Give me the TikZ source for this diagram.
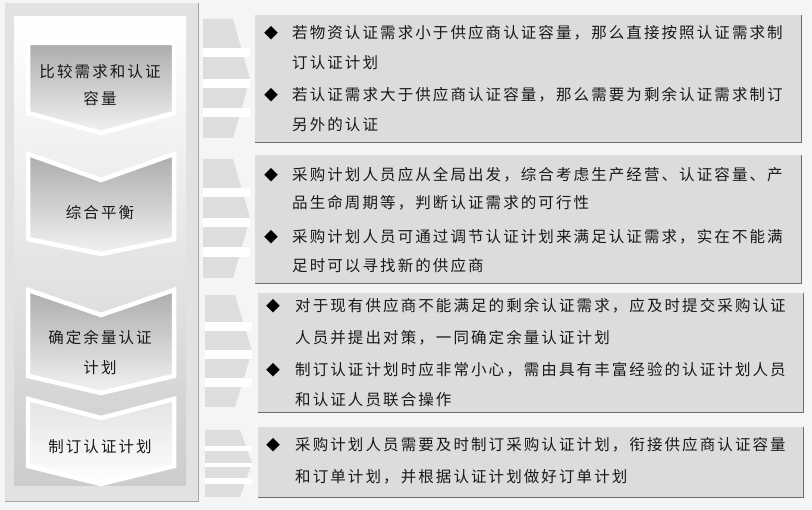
\documentclass[tikz,border=0pt]{standalone}
\usepackage{fontspec}
\newfontfamily\cjk[LetterSpace=13.5]{Noto Sans CJK SC}
\definecolor{bgc}{RGB}{244,245,247}
\definecolor{panelc}{RGB}{226,226,226}
\definecolor{boxc}{RGB}{220,220,220}
\definecolor{arrc}{RGB}{221,221,221}
\definecolor{txtc}{RGB}{25,25,25}
\begin{document}
\begin{tikzpicture}[x=1pt,y=-1pt,
  txt/.style={inner sep=0pt,anchor=west,text=txtc,font=\cjk\fontsize{15.5}{15.5}\selectfont},
  ctxt/.style={inner sep=0pt,text=txtc,font=\cjk\fontsize{15.5}{15.5}\selectfont},
  bul/.style={inner sep=0pt,text=black,font=\cjk\fontsize{14}{14}\selectfont},
  chev/.style={draw=white,line width=4.5pt,line join=miter,top color=gray!65,bottom color=gray!10},
  chevlast/.style={draw=white,line width=4.5pt,line join=miter,top color=gray!22,bottom color=white},
  infobox/.style={fill=boxc},
  shadowline/.style={draw=gray!85!black,line width=1pt},
  arrowshape/.style={fill=arrc},
  stripe/.style={fill=white}]
\fill[bgc] (0,0) rectangle (812,510);
\useasboundingbox (0,0) rectangle (812,510);
% left panel
\fill[panelc] (5,3) rectangle (198,502);
\draw[gray!70,line width=1pt] (198,3) -- (198,502) -- (5,502);
\shade[top color=white,bottom color=gray!40] (14,17) rectangle (186,486);
% chevrons
\shadedraw[chev] (28,43) -- (174,43) -- (174,113) -- (101,133) -- (28,113) -- cycle;
\shadedraw[chev] (28,154) -- (101,180) -- (174,154) -- (174,239) -- (101,254) -- (28,239) -- cycle;
\shadedraw[chev] (28,290) -- (101,315) -- (174,290) -- (174,376) -- (101,393) -- (28,376) -- cycle;
\shadedraw[chevlast] (28,399) -- (101,418) -- (174,399) -- (174,466) -- (101,484) -- (28,466) -- cycle;
\node[ctxt] (c1a) at (100,72) {比较需求和认证};
\node[ctxt] (c1b) at (100,99) {容量};
\node[ctxt] (c2a) at (100,213) {综合平衡};
\node[ctxt] (c3a) at (100,338) {确定余量认证};
\node[ctxt] (c3b) at (100,368) {计划};
\node[ctxt] (c4a) at (100,447) {制订认证计划};
% striped arrows
\fill[arrowshape] (203,19) -- (233,19) -- (250,79) -- (233,138) -- (203,138) -- cycle;
\fill[stripe] (203,48) rectangle (250,57);
\fill[stripe] (203,79) rectangle (250,88);
\fill[stripe] (203,108) rectangle (250,117);
\fill[arrowshape] (203,159) -- (233,159) -- (250,218) -- (233,278) -- (203,278) -- cycle;
\fill[stripe] (203,188) rectangle (250,197);
\fill[stripe] (203,218) rectangle (250,227);
\fill[stripe] (203,247) rectangle (250,257);
\fill[arrowshape] (205,295) -- (235,295) -- (252,351) -- (235,407) -- (205,407) -- cycle;
\fill[stripe] (205,322) rectangle (252,331);
\fill[stripe] (205,350) rectangle (252,359);
\fill[stripe] (205,378) rectangle (252,387);
\fill[arrowshape] (205,430) -- (240,430) -- (252,463) -- (240,497) -- (205,497) -- cycle;
\fill[stripe] (205,446) rectangle (252,451);
\fill[stripe] (205,463) rectangle (252,467);
\fill[stripe] (205,478) rectangle (252,484);
% right boxes
\fill[infobox] (255,15) rectangle (801,143);
\draw[shadowline] (801,15) -- (801,143) -- (255,143);
\fill[infobox] (255,155) rectangle (801,284);
\draw[shadowline] (801,155) -- (801,284) -- (255,284);
\fill[infobox] (258,293) rectangle (803,413);
\draw[shadowline] (803,293) -- (803,413) -- (258,413);
\fill[infobox] (258,427) rectangle (803,498);
\draw[shadowline] (803,427) -- (803,498) -- (258,498);
% box 1
\node[bul] (k1) at (271,33) {◆};
\node[txt] (t1a) at (292,33) {若物资认证需求小于供应商认证容量，那么直接按照认证需求制};
\node[txt] (t1b) at (292,63) {订认证计划};
\node[bul] (k2) at (271,95) {◆};
\node[txt] (t2a) at (292,95) {若认证需求大于供应商认证容量，那么需要为剩余认证需求制订};
\node[txt] (t2b) at (292,125) {另外的认证};
% box 2
\node[bul] (k3) at (271,175) {◆};
\node[txt] (t3a) at (292,175) {采购计划人员应从全局出发，综合考虑生产经营、认证容量、产};
\node[txt] (t3b) at (292,203) {品生命周期等，判断认证需求的可行性};
\node[bul] (k4) at (271,237) {◆};
\node[txt] (t4a) at (292,237) {采购计划人员可通过调节认证计划来满足认证需求，实在不能满};
\node[txt] (t4b) at (292,266) {足时可以寻找新的供应商};
% box 3
\node[bul] (k5) at (273,306) {◆};
\node[txt] (t5a) at (295,306) {对于现有供应商不能满足的剩余认证需求，应及时提交采购认证};
\node[txt] (t5b) at (295,338) {人员并提出对策，一同确定余量认证计划};
\node[bul] (k6) at (273,370) {◆};
\node[txt] (t6a) at (295,370) {制订认证计划时应非常小心，需由具有丰富经验的认证计划人员};
\node[txt] (t6b) at (295,400) {和认证人员联合操作};
% box 4
\node[bul] (k7) at (273,445) {◆};
\node[txt] (t7a) at (295,445) {采购计划人员需要及时制订采购认证计划，衔接供应商认证容量};
\node[txt] (t7b) at (295,477) {和订单计划，并根据认证计划做好订单计划};
\end{tikzpicture}
\end{document}
